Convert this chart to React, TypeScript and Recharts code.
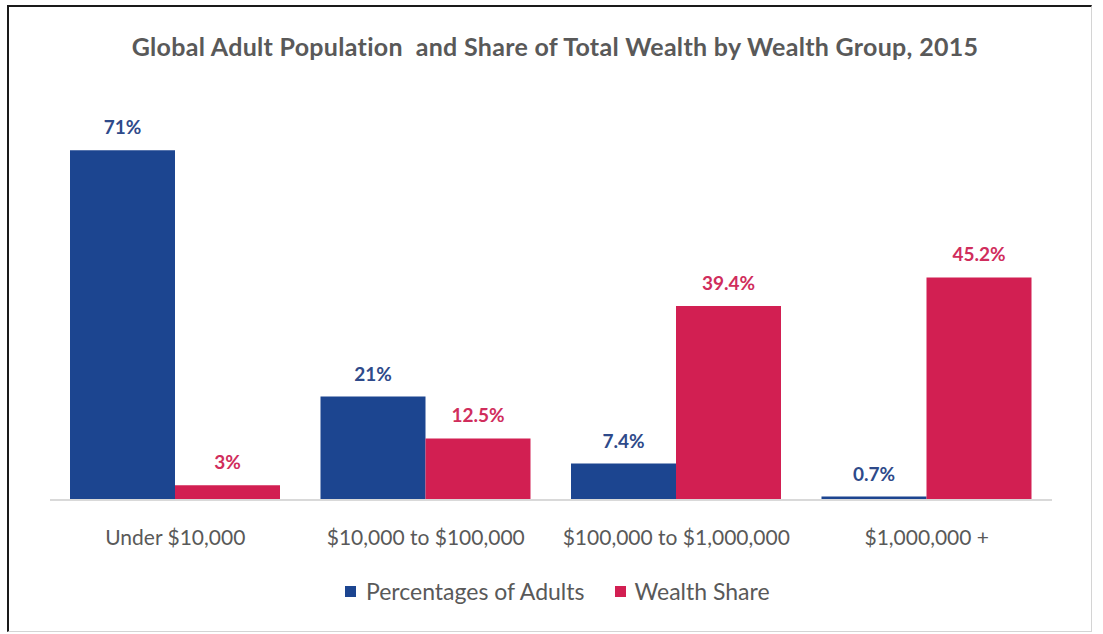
import { BarChart, Bar, XAxis, YAxis, LabelList } from "recharts";

const categories = ["Under $10,000", "$10,000 to $100,000", "$100,000 to $1,000,000", "$1,000,000 +"];
const adultsShare = [71, 21, 7.4, 0.7];
const wealthShare = [3, 12.5, 39.4, 45.2];
const seriesNames = ["Percentages of Adults", "Wealth Share"];

const BLUE = "#1c4590";
const RED = "#d21f52";
const BLUE_TEXT = "#2e4a8a";
const RED_TEXT = "#d02d5c";
const GRAY = "#595959";
const FONT = "Lato, 'Open Sans', sans-serif";

const data = categories.map((name, i) => ({
  name,
  adults: adultsShare[i],
  wealth: wealthShare[i],
}));

const pct = (v: unknown) => `${v}%`;

export default function App() {
  return (
    <div
      style={{
        position: "absolute",
        left: 7,
        top: 5,
        width: 1085,
        height: 627,
        boxSizing: "border-box",
        borderTop: "2px solid #1a1a1a",
        borderLeft: "2px solid #1a1a1a",
        borderRight: "1px solid #d4d4d4",
        borderBottom: "1px solid #d4d4d4",
        background: "#fff",
        fontFamily: FONT,
      }}
    >
      <div
        style={{
          position: "absolute",
          left: 0,
          width: 1092,
          top: 24,
          textAlign: "center",
          fontSize: 25,
          letterSpacing: 0.3,
          fontWeight: 700,
          color: GRAY,
          whiteSpace: "pre",
        }}
      >
        Global Adult Population  and Share of Total Wealth by Wealth Group, 2015
      </div>
      <div style={{ position: "absolute", left: 0, top: 0 }}>
        <BarChart
          width={1082}
          height={624}
          data={data}
          margin={{ top: 99, left: 41, right: 39, bottom: 91 }}
          barCategoryGap={20}
          barGap={0}
        >
          <XAxis
            dataKey="name"
            height={40}
            tickLine={false}
            tickMargin={24}
            axisLine={{ stroke: "#d9d9d9", strokeWidth: 2 }}
            tick={{ fill: GRAY, fontSize: 21, fontFamily: FONT }}
            interval={0}
          />
          <YAxis hide domain={[0, 80]} />
          <Bar dataKey="adults" name={seriesNames[0]} fill={BLUE} isAnimationActive={false}>
            <LabelList
              dataKey="adults"
              position="top"
              offset={16}
              formatter={pct}
              style={{ fill: BLUE_TEXT, fontSize: 19, fontWeight: 700, fontFamily: FONT }}
            />
          </Bar>
          <Bar dataKey="wealth" name={seriesNames[1]} fill={RED} isAnimationActive={false}>
            <LabelList
              dataKey="wealth"
              position="top"
              offset={16}
              formatter={pct}
              style={{ fill: RED_TEXT, fontSize: 19, fontWeight: 700, fontFamily: FONT }}
            />
          </Bar>
        </BarChart>
      </div>
      <div
        style={{
          position: "absolute",
          left: 336,
          top: 570,
          display: "flex",
          alignItems: "center",
          fontSize: 23,
          color: GRAY,
          lineHeight: "28px",
        }}
      >
        <span style={{ width: 11, height: 11, background: BLUE, marginRight: 10 }} />
        <span style={{ marginRight: 31 }}>{seriesNames[0]}</span>
        <span style={{ width: 11, height: 11, background: RED, marginRight: 8 }} />
        <span>{seriesNames[1]}</span>
      </div>
    </div>
  );
}
